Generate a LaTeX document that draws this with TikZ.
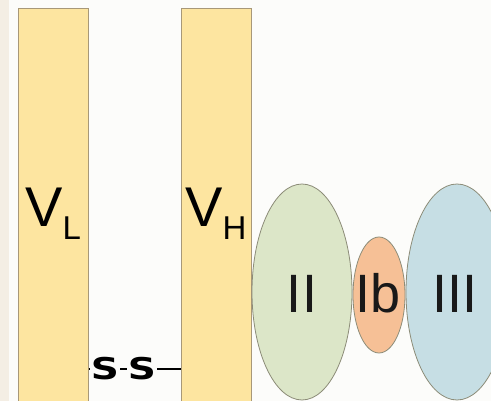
\documentclass[tikz,border=0pt]{standalone}
\usepackage{fontspec}
\setmainfont{Liberation Sans}
\newfontfamily\sulfurfont{DejaVu Sans}
\usetikzlibrary{shapes.geometric}
\definecolor{domyellow}{RGB}{253,229,160}
\definecolor{domedge}{RGB}{168,152,120}
\definecolor{ellgreen}{RGB}{220,230,200}
\definecolor{ellorange}{RGB}{246,192,150}
\definecolor{ellblue}{RGB}{198,222,228}
\definecolor{elledge}{RGB}{140,140,120}
\definecolor{leftstrip}{RGB}{244,238,228}
\definecolor{bgwhite}{RGB}{252,252,250}
\tikzset{
  chainbar/.style={draw=domedge, line width=1pt, fill=domyellow, minimum width=70pt, minimum height=401pt, inner sep=0pt},
  igdomain/.style={ellipse, draw=elledge, line width=0.8pt, inner sep=0pt},
  biglabel/.style={inner sep=0pt, font=\fontsize{54}{54}\selectfont, text=black!90},
  sulfur/.style={inner sep=0pt, font=\sulfurfont\bfseries\fontsize{30}{30}\selectfont},
  bond/.style={line width=2.2pt, black}
}
\begin{document}
\begin{tikzpicture}[x=1pt,y=-1pt]
\useasboundingbox (0,0) rectangle (491,401);
\clip (0,0) rectangle (491,401);
\fill[bgwhite] (0,0) rectangle (491,401);
\fill[leftstrip] (0,0) rectangle (9,401);
% heavy/light chain variable domains
\node[chainbar] (VL) at (53,209.5) {};
\node[chainbar] (VH) at (216.5,209.5) {};
% constant-region domains
\node[igdomain, fill=ellgreen, minimum width=100pt, minimum height=216pt] (II) at (302,292) {};
\node[igdomain, fill=ellblue, minimum width=102pt, minimum height=216pt] (III) at (457,292) {};
\node[igdomain, fill=ellorange, minimum width=52pt, minimum height=116pt] (Ib) at (379,295) {};
% labels
\node[inner sep=0pt, anchor=base west] (VLlab) at (25,227)
  {\fontsize{56}{56}\selectfont V\raisebox{-13pt}{\fontsize{33}{33}\selectfont L}};
\node[inner sep=0pt, anchor=base west] (VHlab) at (185,227)
  {\fontsize{56}{56}\selectfont V\raisebox{-13pt}{\fontsize{33}{33}\selectfont H}};
\node[biglabel, anchor=base] (IIlab) at (302,313) {II};
\node[biglabel, anchor=base] (Iblab) at (378,313) {Ib};
\node[biglabel, anchor=base] (IIIlab) at (455,313) {III};
% disulfide bridge
\node[sulfur] (S1) at (105,369) {\scalebox{1.3}[1]{S}};
\node[sulfur] (S2) at (142,369) {\scalebox{1.3}[1]{S}};
\draw[bond] (VL.east |- S1) -- ([xshift=-1pt]S1.west);
\draw[bond] ([xshift=1pt]S1.east) -- ([xshift=-1pt]S2.west);
\draw[bond] ([xshift=1pt]S2.east) -- (VH.west |- S2);
\end{tikzpicture}
\end{document}
